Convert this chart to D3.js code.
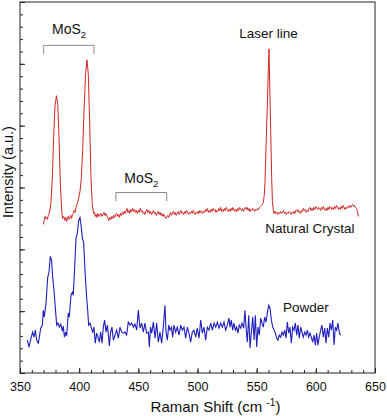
<!DOCTYPE html>
<html>
<head>
<meta charset="utf-8">
<script src="https://cdn.jsdelivr.net/npm/d3@7"></script>
<style>
body { margin: 0; background: #fff; }
text { font-family: "Liberation Sans", Arial, sans-serif; fill: #111; }
</style>
</head>
<body>
<div id="chart"></div>
<script>
// Raman shift (cm-1) and intensity (a.u.)
var crystalShift = [369.7,370.5,371.1,371.8,372.5,373.2,373.9,374.6,375.4,376.2,377.3,378.4,379.6,380.8,381.9,383.0,384.1,385.2,386.0,386.9,388.0,388.7,389.4,390.1,390.8,391.5,392.2,392.9,393.6,394.3,395.0,395.8,396.6,397.3,398.4,399.5,400.7,401.8,403.0,404.2,405.4,406.6,407.7,408.9,410.0,411.1,412.3,413.0,413.6,414.3,415.0,415.9,416.6,417.6,418.3,419.2,420.1,421.0,421.8,422.6,423.5,424.4,425.2,426.0,426.8,427.6,428.4,429.2,430.0,430.8,431.7,432.5,433.3,434.1,434.9,435.7,436.5,437.3,438.1,438.9,439.7,440.4,441.2,442.0,442.8,443.6,444.4,445.2,446.0,446.8,447.6,448.4,449.2,450.0,450.8,451.6,452.4,453.2,454.0,454.8,455.6,456.4,457.2,458.0,458.8,459.6,460.4,461.2,462.0,462.8,463.6,464.4,465.2,466.0,466.8,467.6,468.4,469.2,470.0,470.8,471.6,472.4,473.2,474.0,474.8,475.6,476.4,477.2,478.0,478.8,479.6,480.4,481.2,482.0,482.8,483.6,484.4,485.2,486.0,486.8,487.6,488.4,489.2,490.0,490.8,491.6,492.4,493.2,494.0,494.8,495.6,496.4,497.2,498.0,498.8,499.6,500.4,501.2,502.0,502.8,503.6,504.4,505.2,506.0,506.8,507.6,508.4,509.2,510.0,510.8,511.6,512.4,513.2,514.0,514.8,515.6,516.4,517.2,518.0,518.8,519.6,520.4,521.2,522.0,522.8,523.6,524.4,525.2,526.0,526.8,527.6,528.4,529.2,530.0,530.8,531.6,532.4,533.2,534.0,534.8,535.6,536.4,537.2,538.0,538.8,539.6,540.4,541.2,542.0,542.8,543.6,544.4,545.2,546.0,546.8,547.6,548.4,549.2,550.0,550.8,551.6,552.4,553.2,554.0,554.8,555.6,556.4,557.0,560.4,562.7,563.3,564.0,564.7,565.5,566.3,567.1,567.9,568.7,569.5,570.3,571.1,571.9,572.7,573.5,574.3,575.1,575.9,576.7,577.5,578.3,579.1,579.9,580.7,581.5,582.3,583.1,583.9,584.7,585.5,586.3,587.1,587.9,588.7,589.5,590.3,591.1,591.9,592.7,593.5,594.3,595.1,595.9,596.7,597.5,598.3,599.1,599.9,600.7,601.5,602.3,603.1,603.9,604.7,605.5,606.3,607.1,607.9,608.7,609.5,610.3,611.1,611.9,612.7,613.5,614.3,615.1,615.9,616.7,617.5,618.3,619.1,619.9,620.7,621.5,622.3,623.1,623.9,624.7,625.5,626.3,627.1,627.9,628.7,629.5,630.3,631.1,631.9,632.7,633.5,634.3,635.1,636.0];
var crystalIntensity = [149,153,157,155,156,154,158,160,164,172,195,235,268,278,270,235,190,163,155,157,153,156,152,155,157,154,156,158,155,159,160,163,161,166,170,175,182,195,225,265,300,314,300,250,195,168,160,161,157,159,156,160,157,158,160,157,159,161,158,160,157,155,153,156,154,157,155,158,156,159,160,157,159,156,160,158,161,159,162,160,163,165,161,163,160,164,162,165,162,164,161,163,160,163,161,165,162,163,160,161,159,162,164,161,163,160,162,159,161,163,160,161,158,160,162,159,161,158,160,157,159,157,155,156,158,156,159,161,158,160,162,159,161,158,160,162,159,161,163,160,161,159,162,160,163,161,159,161,160,162,160,163,161,159,161,160,162,160,163,161,162,160,162,161,164,162,165,161,163,161,164,162,165,163,164,161,163,162,165,163,166,162,164,162,165,163,166,164,162,164,162,165,163,166,164,162,164,162,165,163,166,164,163,165,162,164,166,164,166,163,165,162,164,163,165,164,162,164,163,165,164,166,167,168,169,171,178,190,325,195,172,164,160,162,160,161,159,161,160,162,160,161,163,160,161,159,161,160,162,161,159,161,160,162,160,163,162,164,161,162,160,163,162,165,163,164,161,163,162,165,166,163,165,163,166,164,167,166,164,166,165,163,166,164,167,165,163,165,163,166,164,167,166,164,166,164,167,165,168,166,164,166,164,167,165,168,166,164,166,165,167,166,168,166,168,169,167,168,166,165,162,157];

var powderShift = [356.2,357.6,359.3,360.7,361.8,363.0,364.0,365.5,367.5,368.9,369.7,370.5,372.0,373.4,374.5,375.6,376.7,377.6,378.7,380.2,381.0,382.1,383.2,384.4,385.8,386.6,387.5,388.6,389.4,390.8,391.6,393.1,394.2,395.0,396.5,397.3,398.4,399.6,400.7,401.8,402.7,403.8,404.9,406.3,407.2,408.0,409.2,410.3,411.4,412.5,413.6,414.8,415.9,417.0,418.2,419.3,420.4,421.5,422.7,423.8,424.9,425.5,426.6,427.7,428.9,430.3,431.7,433.1,434.5,435.9,437.3,438.7,440.1,441.5,443.0,444.4,445.8,447.2,448.6,450.0,451.4,452.8,454.2,455.6,457.0,458.5,459.3,460.3,461.3,462.7,464.1,465.5,466.9,468.3,469.7,471.1,472.5,473.4,474.5,475.7,476.8,478.0,479.0,480.1,481.6,482.9,484.4,485.8,487.2,488.6,490.0,491.4,492.8,494.2,495.6,497.0,498.5,499.8,501.3,502.7,504.1,505.5,506.9,508.3,509.7,511.2,512.6,514.0,515.4,516.8,518.2,519.6,521.0,522.4,523.8,525.2,526.6,527.5,528.6,529.7,530.8,532.0,533.1,534.2,535.3,536.5,537.6,539.0,540.1,541.0,542.1,543.3,544.4,545.5,546.7,547.8,548.9,550.0,551.1,552.2,553.4,554.5,555.6,556.8,557.9,559.0,560.2,561.3,562.4,563.6,564.7,565.8,566.9,568.0,569.1,570.3,571.4,572.5,573.7,574.8,575.9,577.1,578.2,579.3,580.4,581.6,582.7,583.8,584.9,586.0,587.2,588.3,589.4,590.6,591.7,592.8,594.0,595.1,596.2,597.3,598.5,599.6,600.7,601.8,602.9,604.1,605.2,606.3,607.5,608.6,609.7,610.9,612.0,613.1,614.3,615.4,616.5,617.6,618.7,619.9,621.0];
var powderIntensity = [33,26,35,41,36,43,33,30,45,48,63,56,70,96,101,117,113,96,83,60,48,50,46,49,42,47,36,41,37,60,56,78,81,78,113,135,140,153,156,146,135,131,103,76,63,48,50,45,41,46,30,40,36,31,41,30,46,53,41,48,36,27,41,46,33,38,43,35,46,41,40,41,38,51,48,50,46,49,43,63,45,50,41,50,40,41,26,46,40,51,35,50,31,41,30,46,68,41,33,48,43,46,36,48,41,46,38,48,43,46,35,46,40,31,41,43,36,45,35,53,40,46,33,46,43,50,43,50,46,51,45,50,46,51,43,48,55,46,53,43,50,43,46,40,48,45,50,45,63,46,31,58,25,41,56,33,58,26,46,38,55,50,46,56,51,60,68,65,53,46,43,40,35,33,38,36,41,38,43,35,51,40,46,30,46,43,50,38,48,35,46,41,36,41,38,43,36,40,36,31,38,28,40,28,36,43,48,36,45,30,45,36,50,43,53,28,46,43,50,40,38];

var shiftTicks = [350, 400, 450, 500, 550, 600, 650];
var shiftMinorTicks = d3.range(350, 651, 10);
var intensityMajorTicks = [0, 62, 124, 186, 248, 310, 372];
var intensityMinorTicks = d3.range(0, 373, 12.4);

var margin = {top: 2, right: 12, bottom: 43, left: 20};
var containerWidth = 387;
var containerHeight = 416;
var chartWidth = containerWidth - margin.left - margin.right;
var chartHeight = containerHeight - margin.top - margin.bottom;

var svg = d3.select('#chart').append('svg')
    .attr('width', containerWidth)
    .attr('height', containerHeight)
  .append('g')
    .attr('transform', `translate(${margin.left}, ${margin.top})`);

var xScale = d3.scaleLinear().domain([350, 650]).range([0, chartWidth]);
var yScale = d3.scaleLinear().domain([0, 372]).range([chartHeight, 0]);

// minor ticks first, inward
svg.append('g')
    .attr('transform', `translate(0,${chartHeight})`)
    .call(d3.axisBottom(xScale).tickValues(shiftMinorTicks).tickSize(-3).tickFormat(''))
    .call(g => g.select('.domain').remove());

svg.append('g')
    .attr('class', 'x axis')
    .attr('transform', `translate(0,${chartHeight})`)
    .call(d3.axisBottom(xScale).tickValues(shiftTicks).tickSize(-5).tickPadding(9).tickFormat(d3.format('d')))
    .call(g => g.select('.domain').remove())
    .selectAll('text')
        .style('font-size', '12.5px')
        .style('font-family', '"Liberation Sans", Arial, sans-serif')
        .attr('fill', '#111');

svg.append('g')
    .call(d3.axisLeft(yScale).tickValues(intensityMinorTicks).tickSize(-3).tickFormat(''))
    .call(g => g.select('.domain').remove());

svg.append('g')
    .call(d3.axisLeft(yScale).tickValues(intensityMajorTicks).tickSize(-5).tickFormat(''))
    .call(g => g.select('.domain').remove());

svg.selectAll('.tick line').attr('stroke', '#222');

svg.append('rect')
    .attr('x', 0).attr('y', 0)
    .attr('width', chartWidth).attr('height', chartHeight)
    .attr('fill', 'none')
    .attr('stroke', '#222')
    .attr('stroke-width', 1);

var line = d3.line()
    .x(d => xScale(d[0]))
    .y(d => yScale(d[1]));

svg.append('path')
    .datum(d3.zip(crystalShift, crystalIntensity))
    .attr('fill', 'none')
    .attr('stroke', '#d42424')
    .attr('stroke-width', 1)
    .attr('d', line);

svg.append('path')
    .datum(d3.zip(powderShift, powderIntensity))
    .attr('fill', 'none')
    .attr('stroke', '#1f1fbf')
    .attr('stroke-width', 1.1)
    .attr('d', line);

// MoS2 brackets
function bracket(x0, x1, top, drop) {
  var y0 = yScale(top);
  svg.append('path')
    .attr('d', `M${xScale(x0)},${y0 + drop}V${y0}H${xScale(x1)}V${y0 + drop}`)
    .attr('fill', 'none')
    .attr('stroke', '#8a8a8a')
    .attr('stroke-width', 1);
}
bracket(370, 412.5, 328.5, 8.5);
bracket(431, 474, 181, 8.5);

function mos2(xc, base) {
  var t = svg.append('text')
    .attr('x', xScale(xc))
    .attr('y', yScale(base))
    .attr('text-anchor', 'middle')
    .style('font-size', '14px');
  t.append('tspan').text('MoS');
  t.append('tspan').attr('dy', 4).style('font-size', '9.5px').text('2');
}
mos2(391.5, 340);
mos2(452.5, 191);

function label(txt, xc, base) {
  svg.append('text')
    .attr('x', xScale(xc))
    .attr('y', yScale(base))
    .attr('text-anchor', 'middle')
    .style('font-size', '13.5px')
    .text(txt);
}
label('Laser line', 560, 336);
label('Natural Crystal', 595, 140);
label('Powder', 591.5, 61);

// axis titles
var xt = svg.append('text')
    .attr('x', chartWidth / 2 + 18)
    .attr('y', chartHeight + 39)
    .attr('text-anchor', 'middle')
    .style('font-size', '15px');
xt.append('tspan').text('Raman Shift (cm ');
xt.append('tspan').attr('dy', -6).style('font-size', '10px').text('-1');
xt.append('tspan').attr('dy', 6).text(')');

svg.append('text')
    .attr('transform', `translate(${-7}, ${170}) rotate(-90)`)
    .attr('text-anchor', 'middle')
    .style('font-size', '14.5px')
    .text('Intensity (a.u.)');
</script>
</body>
</html>
